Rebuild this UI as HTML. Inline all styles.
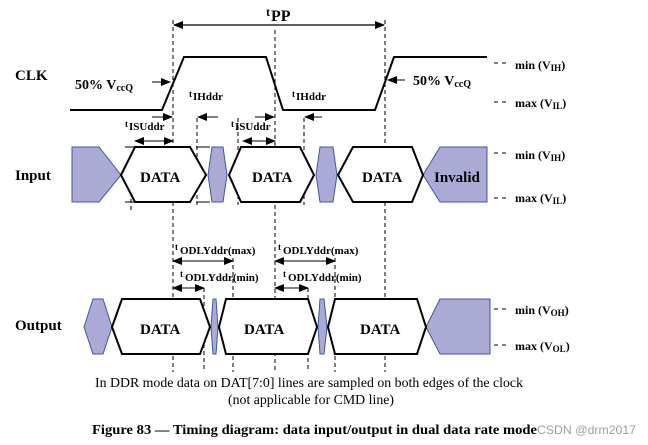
<!DOCTYPE html>
<html><head><meta charset="utf-8"><style>
html,body{margin:0;padding:0;background:#fff;width:648px;height:445px;overflow:hidden}
svg{display:block}
text{font-family:"Liberation Serif",serif;fill:#000}
.b{font-weight:bold}
</style></head><body>
<svg width="648" height="445" viewBox="0 0 648 445" xmlns="http://www.w3.org/2000/svg">
<defs>
<marker id="ar" markerWidth="10" markerHeight="8" refX="9" refY="4" orient="auto-start-reverse" markerUnits="userSpaceOnUse">
<path d="M0,0 L10,4 L0,8 z" fill="#000"/></marker>
</defs>
<g stroke="#000" stroke-width="1" stroke-dasharray="4,3" fill="none">
<line x1="173" y1="20" x2="173" y2="372"/>
<line x1="275" y1="30" x2="275" y2="372"/>
<line x1="385" y1="20" x2="385" y2="372"/>
<line x1="131" y1="185" x2="131" y2="212"/>
<line x1="197" y1="118" x2="197" y2="205"/>
<line x1="238" y1="118" x2="238" y2="205"/>
<line x1="304" y1="118" x2="304" y2="205"/>
<line x1="204" y1="288" x2="204" y2="372"/>
<line x1="233" y1="258" x2="233" y2="372"/>
<line x1="308" y1="288" x2="308" y2="372"/>
<line x1="335" y1="258" x2="335" y2="372"/>
</g>
<g stroke="#000" stroke-width="1" stroke-dasharray="4,4">
<line x1="494" y1="63" x2="506" y2="63"/><line x1="494" y1="102" x2="506" y2="102"/>
<line x1="494" y1="153" x2="506" y2="153"/><line x1="494" y1="198" x2="506" y2="198"/>
<line x1="494" y1="309" x2="506" y2="309"/><line x1="494" y1="345" x2="506" y2="345"/>
</g>
<line x1="174" y1="25" x2="384" y2="25" stroke="#000" stroke-width="1.2" marker-start="url(#ar)" marker-end="url(#ar)"/>
<text x="266" y="16" class="b" font-size="12">t</text><text x="271" y="21" class="b" font-size="16">PP</text>
<polyline points="70,110 162,110 184,57 266,57 283,110 375,110 394,57 487,57" fill="none" stroke="#000" stroke-width="2"/>
<text x="15" y="80" class="b" font-size="15">CLK</text>
<text x="75" y="89" class="b" font-size="14">50% V<tspan font-size="10" dy="2">ccQ</tspan></text>
<line x1="152" y1="82" x2="170" y2="82" stroke="#000" marker-end="url(#ar)"/>
<line x1="405" y1="80" x2="388" y2="80" stroke="#000" marker-end="url(#ar)"/>
<text x="413" y="85" class="b" font-size="14">50% V<tspan font-size="10" dy="2">ccQ</tspan></text>
<text x="189" y="97" class="b" font-size="9">t</text><text x="193" y="100" class="b" font-size="11">IHddr</text>
<text x="292" y="97" class="b" font-size="9">t</text><text x="296" y="100" class="b" font-size="11">IHddr</text>
<text x="125" y="127" class="b" font-size="9">t</text><text x="129" y="130" class="b" font-size="11">ISUddr</text>
<text x="231" y="127" class="b" font-size="9">t</text><text x="235" y="130" class="b" font-size="11">ISUddr</text>
<g stroke="#000" stroke-width="1">
<line x1="152" y1="117" x2="172" y2="117" marker-end="url(#ar)"/>
<line x1="218" y1="117" x2="198" y2="117" marker-end="url(#ar)"/>
<line x1="255" y1="117" x2="274" y2="117" marker-end="url(#ar)"/>
<line x1="322" y1="117" x2="305" y2="117" marker-end="url(#ar)"/>
<line x1="135" y1="141" x2="173" y2="141" marker-start="url(#ar)" marker-end="url(#ar)"/>
<line x1="243" y1="141" x2="275" y2="141" marker-start="url(#ar)" marker-end="url(#ar)"/>
<line x1="125" y1="147" x2="140" y2="147"/><line x1="125" y1="202" x2="140" y2="202"/>
<line x1="196" y1="147" x2="210" y2="147"/><line x1="196" y1="202" x2="210" y2="202"/>
</g>
<g fill="#aaaad4" stroke="#3a5aa8" stroke-width="1">
<polygon points="72,147 99,147 121,175 99,202 72,202"/>
<polygon points="212,147 223,147 227,175 223,202 212,202 208,175"/>
<polygon points="320,147 333,147 337,175 333,202 320,202 316,175"/>
<polygon points="487,147 440,147 423,175 440,202 487,202"/>
</g>
<g fill="#fff" stroke="#000" stroke-width="2">
<polygon points="121,175 135,147 190,147 206,175 190,202 135,202"/>
<polygon points="229,175 241,147 300,147 314,175 300,202 241,202"/>
<polygon points="338,175 353,147 412,147 423,175 412,202 353,202"/>
</g>
<text x="15" y="180" class="b" font-size="15">Input</text>
<text x="140" y="182" class="b" font-size="15">DATA</text>
<text x="252" y="182" class="b" font-size="15">DATA</text>
<text x="362" y="182" class="b" font-size="15">DATA</text>
<text x="434" y="182" class="b" font-size="15">Invalid</text>
<text x="175" y="250" class="b" font-size="9">t</text><text x="180" y="254" class="b" font-size="11">ODLYddr(max)</text>
<text x="278" y="250" class="b" font-size="9">t</text><text x="283" y="254" class="b" font-size="11">ODLYddr(max)</text>
<text x="180" y="277" class="b" font-size="9">t</text><text x="185" y="281" class="b" font-size="11">ODLYddr(min)</text>
<text x="283" y="277" class="b" font-size="9">t</text><text x="288" y="281" class="b" font-size="11">ODLYddr(min)</text>
<g stroke="#000" stroke-width="1">
<line x1="173" y1="261" x2="233" y2="261" marker-start="url(#ar)" marker-end="url(#ar)"/>
<line x1="275" y1="261" x2="335" y2="261" marker-start="url(#ar)" marker-end="url(#ar)"/>
<line x1="173" y1="288" x2="204" y2="288" marker-start="url(#ar)" marker-end="url(#ar)"/>
<line x1="275" y1="288" x2="308" y2="288" marker-start="url(#ar)" marker-end="url(#ar)"/>
</g>
<g fill="#aaaad4" stroke="#3a5aa8" stroke-width="1">
<polygon points="84,327 93,299 103,299 112,327 103,354 93,354"/>
<polygon points="213,299 216,299 218,327 216,354 213,354 211,327"/>
<polygon points="320,299 324,299 327,327 324,354 320,354 318,327"/>
<polygon points="490,299 440,299 426,327 440,354 490,354"/>
</g>
<g fill="#fff" stroke="#000" stroke-width="2">
<polygon points="112,327 122,299 200,299 210,327 200,354 122,354"/>
<polygon points="219,327 226,299 308,299 317,327 308,354 226,354"/>
<polygon points="328,327 335,299 417,299 426,327 417,354 335,354"/>
</g>
<text x="15" y="330" class="b" font-size="15">Output</text>
<text x="140" y="334" class="b" font-size="15">DATA</text>
<text x="244" y="334" class="b" font-size="15">DATA</text>
<text x="360" y="334" class="b" font-size="15">DATA</text>
<text x="515" y="69" class="b" font-size="12">min (V<tspan font-size="9" dy="2">IH</tspan><tspan dy="-2">)</tspan></text>
<text x="515" y="107" class="b" font-size="12">max (V<tspan font-size="9" dy="2">IL</tspan><tspan dy="-2">)</tspan></text>
<text x="515" y="159" class="b" font-size="12">min (V<tspan font-size="9" dy="2">IH</tspan><tspan dy="-2">)</tspan></text>
<text x="515" y="202" class="b" font-size="12">max (V<tspan font-size="9" dy="2">IL</tspan><tspan dy="-2">)</tspan></text>
<text x="515" y="314" class="b" font-size="12">min (V<tspan font-size="9" dy="2">OH</tspan><tspan dy="-2">)</tspan></text>
<text x="515" y="350" class="b" font-size="12">max (V<tspan font-size="9" dy="2">OL</tspan><tspan dy="-2">)</tspan></text>
<text x="95" y="387" font-size="13.5" textLength="428" lengthAdjust="spacingAndGlyphs">In DDR mode data on DAT[7:0] lines are sampled on both edges of the clock</text>
<text x="228" y="404" font-size="13.5" textLength="166" lengthAdjust="spacingAndGlyphs">(not applicable for CMD line)</text>
<text x="92" y="434" class="b" font-size="13.5" textLength="445" lengthAdjust="spacingAndGlyphs">Figure 83 — Timing diagram: data input/output in dual data rate mode</text>
<text x="537" y="434" font-size="12" style="font-family:'Liberation Sans',sans-serif;fill:#a0a0a0" textLength="99" lengthAdjust="spacingAndGlyphs">CSDN @drm2017</text>
</svg>
</body></html>
